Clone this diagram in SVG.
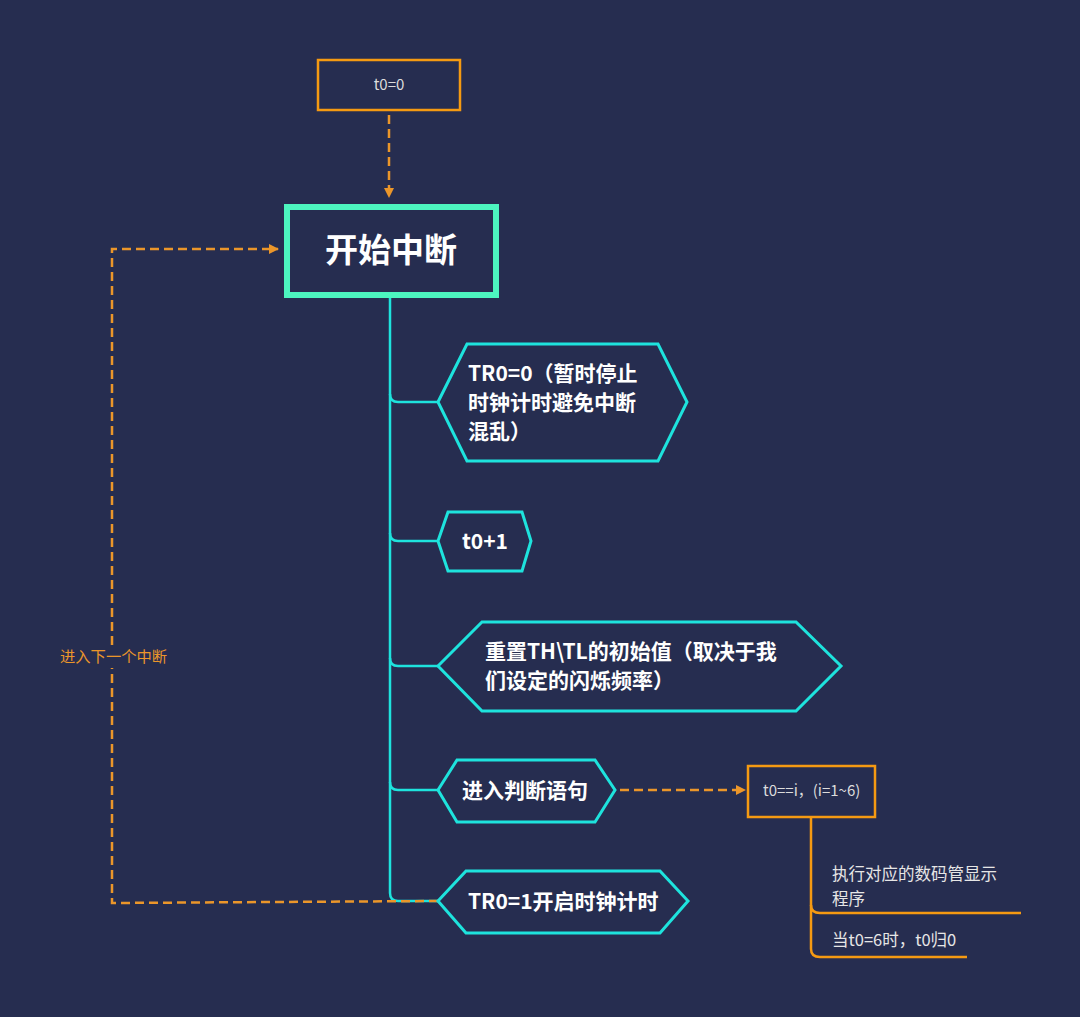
<svg xmlns="http://www.w3.org/2000/svg" width="1080" height="1017" viewBox="0 0 1080 1017">
<style>
text{font-family:"Noto Sans CJK SC","Noto Sans",sans-serif}
.hex{fill:#262d50;stroke:#1ee3dd;stroke-width:3;stroke-linejoin:miter}
.ht{fill:#ffffff;font-size:21px;font-weight:bold}
.ob{fill:#262d50;stroke:#f59a12;stroke-width:2.5}
.ot{fill:#dcdcdc;font-size:15px}
.trunk{fill:none;stroke:#1ee3dd;stroke-width:2.5}
.dash{fill:none;stroke:#eb962a;stroke-width:2.5;stroke-dasharray:9 5}
.oline{fill:none;stroke:#f59a12;stroke-width:2.5}
.st{fill:#e6e6e6;font-size:16.5px}
</style>
<defs>
<marker id="arr" viewBox="0 0 10 10" refX="9" refY="5" markerWidth="10" markerHeight="10" markerUnits="userSpaceOnUse" orient="auto">
<path d="M0,0 L10,5 L0,10 Z" fill="#eb962a"/>
</marker>
</defs>
<rect width="1080" height="1017" fill="#262d50"/>

<g id="connectors">
<path class="dash" d="M389,115 V197" marker-end="url(#arr)"/>
<path class="trunk" d="M390,296 V394 Q390,402 398,402 H438"/>
<path class="trunk" d="M390,394 V533 Q390,541 398,541 H438"/>
<path class="trunk" d="M390,533 V658 Q390,666 398,666 H438"/>
<path class="trunk" d="M390,658 V782 Q390,790 398,790 H438"/>
<path class="trunk" d="M390,782 V893 Q390,901 398,901 H438"/>
<path class="dash" d="M620,790 H745" marker-end="url(#arr)"/>
<path class="dash" d="M438,901 L112,903 V668"/>
<path class="dash" d="M112,645 V249 H278" marker-end="url(#arr)"/>
<path class="oline" d="M811,817 V905 Q811,913 820,913 H1021"/>
<path class="oline" d="M811,905 V949 Q811,957 820,957 H967"/>
</g>

<g id="n_t0">
<rect class="ob" x="318" y="60" width="142" height="50"/>
<text class="ot" x="389" y="90" text-anchor="middle">t0=0</text>
</g>

<g id="n_start">
<rect x="287" y="207" width="209" height="88" fill="#262d50" stroke="#4cf5bf" stroke-width="6"/>
<text x="391" y="262" text-anchor="middle" fill="#ffffff" font-size="33" font-weight="bold">开始中断</text>
</g>

<g id="n_tr0">
<polygon class="hex" points="438,402 467,344 658,344 687,402 658,461 467,461"/>
<text class="ht"><tspan x="468" y="381">TR0=0（暂时停止</tspan><tspan x="468" y="410">时钟计时避免中断</tspan><tspan x="468" y="439">混乱）</tspan></text>
</g>

<g id="n_t0p1">
<polygon class="hex" points="438,541 448,512 522,512 531,541 522,571 448,571"/>
<text class="ht" x="462" y="549">t0+1</text>
</g>

<g id="n_reset">
<polygon class="hex" points="438,666 482,622 796,622 841,666 796,711 482,711"/>
<text class="ht"><tspan x="485" y="659">重置TH\TL的初始值（取决于我</tspan><tspan x="485" y="688">们设定的闪烁频率）</tspan></text>
</g>

<g id="n_judge">
<polygon class="hex" points="438,790 457,760 595,760 615,790 595,822 457,822"/>
<text class="ht" x="462" y="798">进入判断语句</text>
</g>

<g id="n_tr1">
<polygon class="hex" points="438,901 466,871 660,871 688,901 660,933 466,933"/>
<text class="ht" x="468" y="909">TR0=1开启时钟计时</text>
</g>

<g id="n_cond">
<rect class="ob" x="748" y="766" width="127" height="51"/>
<text class="ot" x="763" y="796">t0==i，(i=1~6)</text>
</g>

<g id="n_exec">
<text class="st"><tspan x="832" y="880">执行对应的数码管显示</tspan><tspan x="832" y="905">程序</tspan></text>
</g>

<g id="n_reset0">
<text class="st" x="832" y="946">当t0=6时，t0归0</text>
</g>

<g id="n_label">
<text x="60" y="662" fill="#eb962a" font-size="15.3">进入下一个中断</text>
</g>
</svg>
